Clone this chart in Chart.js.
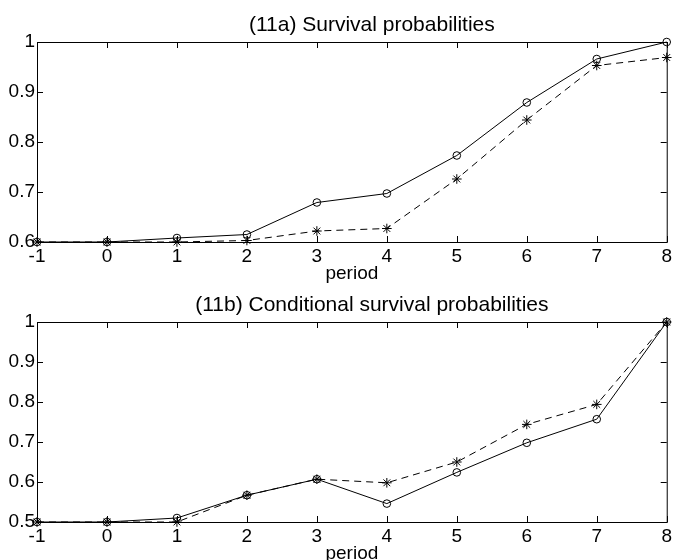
<!DOCTYPE html>
<html>
<head>
<meta charset="utf-8">
<title>Survival probabilities</title>
<script src="https://cdn.jsdelivr.net/npm/chart.js@4/dist/chart.umd.min.js"></script>
<style>
  html, body { margin: 0; padding: 0; background: #fff; overflow: hidden; }
  .panel { position: absolute; left: 0; width: 675px; height: 286px; }
</style>
</head>
<body>
<div class="panel" style="top:0"><canvas id="survival" width="675" height="286"></canvas></div>
<div class="panel" style="top:280px"><canvas id="conditional" width="675" height="286"></canvas></div>
<script>
// Periods on the horizontal axis
const periods = [-1, 0, 1, 2, 3, 4, 5, 6, 7, 8];
const periodTicks = [-1, 0, 1, 2, 3, 4, 5, 6, 7, 8];

// (11a) survival probabilities: solid line with circles, dashed line with stars
const survivalSolid  = [0.600, 0.600, 0.608, 0.615, 0.679, 0.697, 0.773, 0.879, 0.966, 1.000];
const survivalDashed = [0.600, 0.600, 0.600, 0.603, 0.622, 0.627, 0.726, 0.844, 0.953, 0.969];
const survivalTicks  = [0.6, 0.7, 0.8, 0.9, 1];

// (11b) conditional survival probabilities
const condSolid  = [0.500, 0.500, 0.510, 0.567, 0.607, 0.546, 0.624, 0.698, 0.757, 1.000];
const condDashed = [0.500, 0.500, 0.500, 0.567, 0.607, 0.598, 0.650, 0.744, 0.794, 1.000];
const condTicks  = [0.5, 0.6, 0.7, 0.8, 0.9, 1];

const FONT = "'Liberation Sans', Arial, Helvetica, sans-serif";

// Axes box with inward tick marks on all four sides
const boxTicks = {
  id: 'boxTicks',
  beforeDatasetsDraw(chart) {
    const { ctx, chartArea: a, scales: { x, y } } = chart;
    const L = 6;
    ctx.save();
    ctx.strokeStyle = '#000';
    ctx.lineWidth = 1;
    ctx.strokeRect(a.left + 0.5, a.top + 0.5, a.right - a.left, a.bottom - a.top);
    ctx.beginPath();
    x.ticks.forEach(t => {
      const px = Math.round(x.getPixelForValue(t.value)) + 0.5;
      ctx.moveTo(px, a.top); ctx.lineTo(px, a.top + L);
      ctx.moveTo(px, a.bottom); ctx.lineTo(px, a.bottom - L);
    });
    y.ticks.forEach(t => {
      const py = Math.round(y.getPixelForValue(t.value)) + 0.5;
      ctx.moveTo(a.left, py); ctx.lineTo(a.left + L, py);
      ctx.moveTo(a.right, py); ctx.lineTo(a.right - L, py);
    });
    ctx.stroke();
    ctx.restore();
  }
};

// Panel heading above the axes
const panelTitle = {
  id: 'panelTitle',
  afterDraw(chart, args, opts) {
    const { ctx, chartArea: a } = chart;
    ctx.save();
    ctx.font = '21px ' + FONT;
    ctx.fillStyle = '#000';
    ctx.textAlign = 'center';
    ctx.textBaseline = 'middle';
    ctx.fillText(opts.text, (a.left + a.right) / 2 + opts.shift, opts.y);
    ctx.restore();
  }
};

function pts(values) {
  return periods.map((p, i) => ({ x: p, y: values[i] }));
}

function makePanel(canvasId, heading, solid, dashed, yTicks) {
  return new Chart(document.getElementById(canvasId), {
    type: 'line',
    data: {
      datasets: [
        {
          data: pts(solid),
          borderColor: '#000',
          borderWidth: 1,
          pointStyle: 'circle',
          pointRadius: 3.8,
          pointBorderWidth: 1,
          pointBorderColor: '#000',
          pointBackgroundColor: 'rgba(0,0,0,0)',
          fill: false,
          tension: 0,
          clip: false
        },
        {
          data: pts(dashed),
          borderColor: '#000',
          borderWidth: 1,
          borderDash: [7, 5],
          pointStyle: 'star',
          pointRadius: 4.8,
          pointBorderWidth: 1,
          pointBorderColor: '#000',
          pointBackgroundColor: 'rgba(0,0,0,0)',
          fill: false,
          tension: 0,
          clip: false
        }
      ]
    },
    options: {
      responsive: false,
      animation: false,
      devicePixelRatio: 1,
      layout: { padding: { top: 42, right: 6, left: 0, bottom: 6 } },
      plugins: {
        legend: { display: false },
        tooltip: { enabled: false },
        title: { display: false },
        panelTitle: { text: heading, shift: 20, y: 25 }
      },
      scales: {
        x: {
          type: 'linear',
          min: periodTicks[0],
          max: periodTicks[periodTicks.length - 1],
          afterBuildTicks: s => { s.ticks = periodTicks.map(v => ({ value: v })); },
          afterFit: s => { s.height = 38; },
          grid: { display: false, drawTicks: false },
          border: { display: false },
          ticks: {
            color: '#000',
            font: { family: FONT, size: 19 },
            padding: 3,
            maxRotation: 0,
            autoSkip: false,
            callback: v => String(v)
          },
          title: {
            display: true,
            text: 'period',
            color: '#000',
            font: { family: FONT, size: 19, lineHeight: 1 },
            padding: { top: 0, bottom: -3 }
          }
        },
        y: {
          type: 'linear',
          min: yTicks[0],
          max: yTicks[yTicks.length - 1],
          afterBuildTicks: s => { s.ticks = yTicks.map(v => ({ value: v })); },
          afterFit: s => { s.width = 37; },
          grid: { display: false, drawTicks: false },
          border: { display: false },
          ticks: {
            color: '#000',
            font: { family: FONT, size: 19 },
            padding: 2,
            autoSkip: false,
            callback: v => String(v)
          }
        }
      }
    },
    plugins: [boxTicks, panelTitle]
  });
}

makePanel('survival', '(11a) Survival probabilities', survivalSolid, survivalDashed, survivalTicks);
makePanel('conditional', '(11b) Conditional survival probabilities', condSolid, condDashed, condTicks);
</script>
</body>
</html>
